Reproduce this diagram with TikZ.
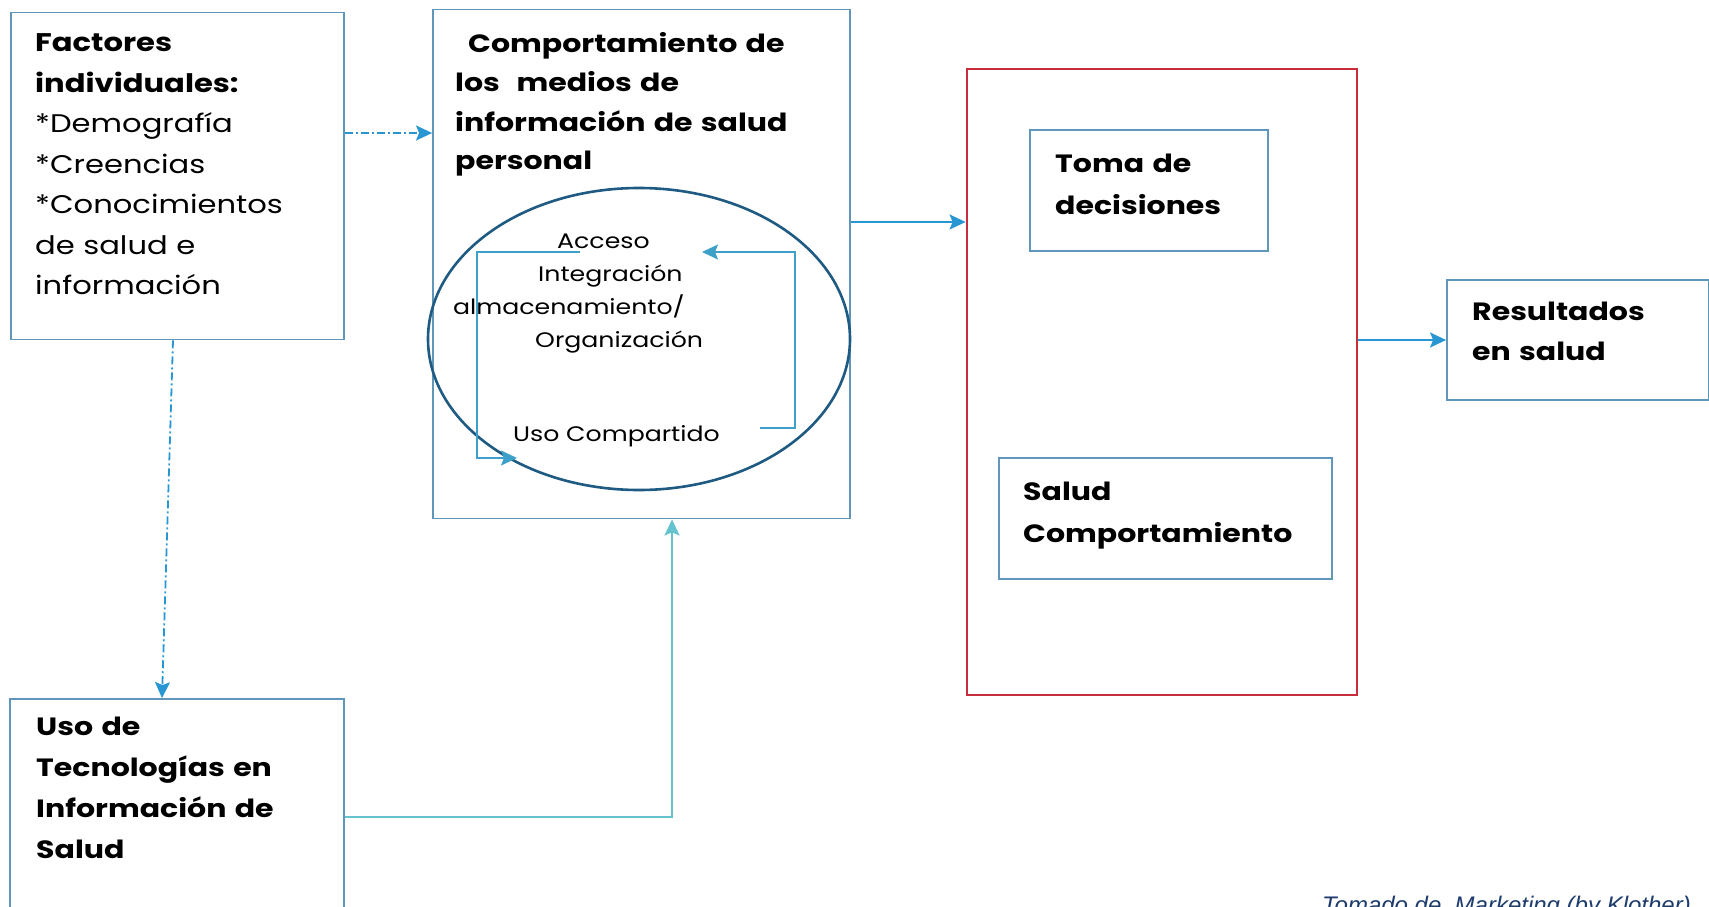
\documentclass[tikz,border=0pt]{standalone}
\usepackage{fontspec}
\setmainfont{Poppins}[FakeStretch=1.2]
\newfontfamily\capfont{Liberation Sans}
\usetikzlibrary{arrows.meta, shapes.geometric, positioning, calc}
\definecolor{boxblue}{RGB}{95,150,185}
\definecolor{redbox}{RGB}{200,45,60}
\definecolor{ellblue}{RGB}{30,90,130}
\definecolor{arrblue}{RGB}{40,150,210}
\definecolor{loopblue}{RGB}{60,160,200}
\definecolor{tealln}{RGB}{100,195,205}
\definecolor{capblue}{RGB}{30,60,110}

\begin{document}
\begin{tikzpicture}[x=1pt, y=-1pt,
    box/.style={draw=boxblue, line width=1.8pt, rectangle, inner sep=0pt},
    txt/.style={anchor=base west, align=left, inner sep=0pt, text width=#1,
      font=\fontsize{25.5}{40.5}\selectfont},
    txt/.default=320pt,
    tip/.style={-{Stealth[length=16pt, width=15pt, inset=3pt]}},
    dd/.style={draw=arrblue, line width=1.8pt, tip,
      dash pattern=on 8pt off 3pt on 2pt off 3pt}]

  \useasboundingbox (0,0) rectangle (1709,907);

  % cajas
  \node[box, minimum width=333pt, minimum height=327pt] (fact) at (177.5,176) {};
  \node[box, minimum width=417pt, minimum height=509pt] (comp) at (641.5,264) {};
  \node[box, draw=redbox, line width=2.8pt, minimum width=390pt, minimum height=626pt] (dec) at (1162,382) {};
  \node[box, minimum width=238pt, minimum height=121pt] (toma) at (1149,190.5) {};
  \node[box, minimum width=333pt, minimum height=121pt] (salud) at (1165.5,518.5) {};
  \node[box, minimum width=262pt, minimum height=120pt] (res) at (1578,340) {};
  \node[box, minimum width=334pt, minimum height=240pt] (uso) at (177,819) {};

  % textos
  \node[txt] (factt) at (35,52) {\textbf{Factores}\\ \textbf{individuales:}\\
    {*}Demografía\\ {*}Creencias\\ {*}Conocimientos\\ de salud e\\ información};
  \node[txt=400pt, font=\bfseries\fontsize{25}{39}\selectfont] (compt) at (455,53)
    {\hspace*{13pt}Comportamiento de\\ los\ \ medios de\\ información de salud\\ personal};
  \node[txt=220pt, font=\bfseries\fontsize{25}{42}\selectfont] (tomat) at (1055,172) {Toma de\\ decisiones};
  \node[txt=300pt, font=\bfseries\fontsize{25}{42}\selectfont] (saludt) at (1023,500) {Salud\\ Comportamiento};
  \node[txt=230pt, font=\bfseries\fontsize{25}{40}\selectfont] (rest) at (1472,320) {Resultados\\ en salud};
  \node[txt, font=\bfseries\fontsize{25}{41}\selectfont] (usot) at (36,735)
    {Uso de\\ Tecnologías en\\ Información de\\ Salud};

  % ciclo interno
  \node[draw=ellblue, line width=2.6pt, ellipse, minimum width=422pt, minimum height=302pt] (ell) at (639,339) {};
  \node[txt=300pt, font=\fontsize{21}{33}\selectfont] (acc) at (453,248)
    {\hspace*{104pt}Acceso\\ \hspace*{85pt}Integración\\ almacenamiento/\\ \hspace*{82pt}Organización};
  \node[anchor=base west, inner sep=0pt, font=\fontsize{21}{33}\selectfont] (ucomp) at (513,441) {Uso Compartido};

  \coordinate (l1) at (580,252);
  \coordinate (l2) at (517,458);
  \coordinate (r1) at (760,428);
  \coordinate (r2) at (702,252);
  \draw[loopblue, line width=1.6pt, tip] (l1) -- (477,252) |- (l2);
  \draw[loopblue, line width=1.6pt, tip] (r1) -- (795,428) |- (r2);

  % conectores
  \draw[dd] (fact.east |- 0,133) -- (comp.west |- 0,133);
  \draw[dd] (fact.south -| 173,0) -- (uso.north -| 162,0);
  \draw[tealln, line width=2.2pt, tip] (uso.east |- 0,817) -| (comp.south -| 672,0);
  \draw[arrblue, line width=1.8pt, tip] (comp.east |- 0,222) -- (dec.west |- 0,222);
  \draw[arrblue, line width=1.8pt, tip] (dec.east |- 0,340) -- (res.west |- 0,340);

  \node[anchor=base west, inner sep=0pt, text=capblue,
    font=\capfont\itshape\fontsize{24}{26}\selectfont] (src) at (1322,913)
    {Tomado de\ \ Marketing (by Klother)};
\end{tikzpicture}
\end{document}
